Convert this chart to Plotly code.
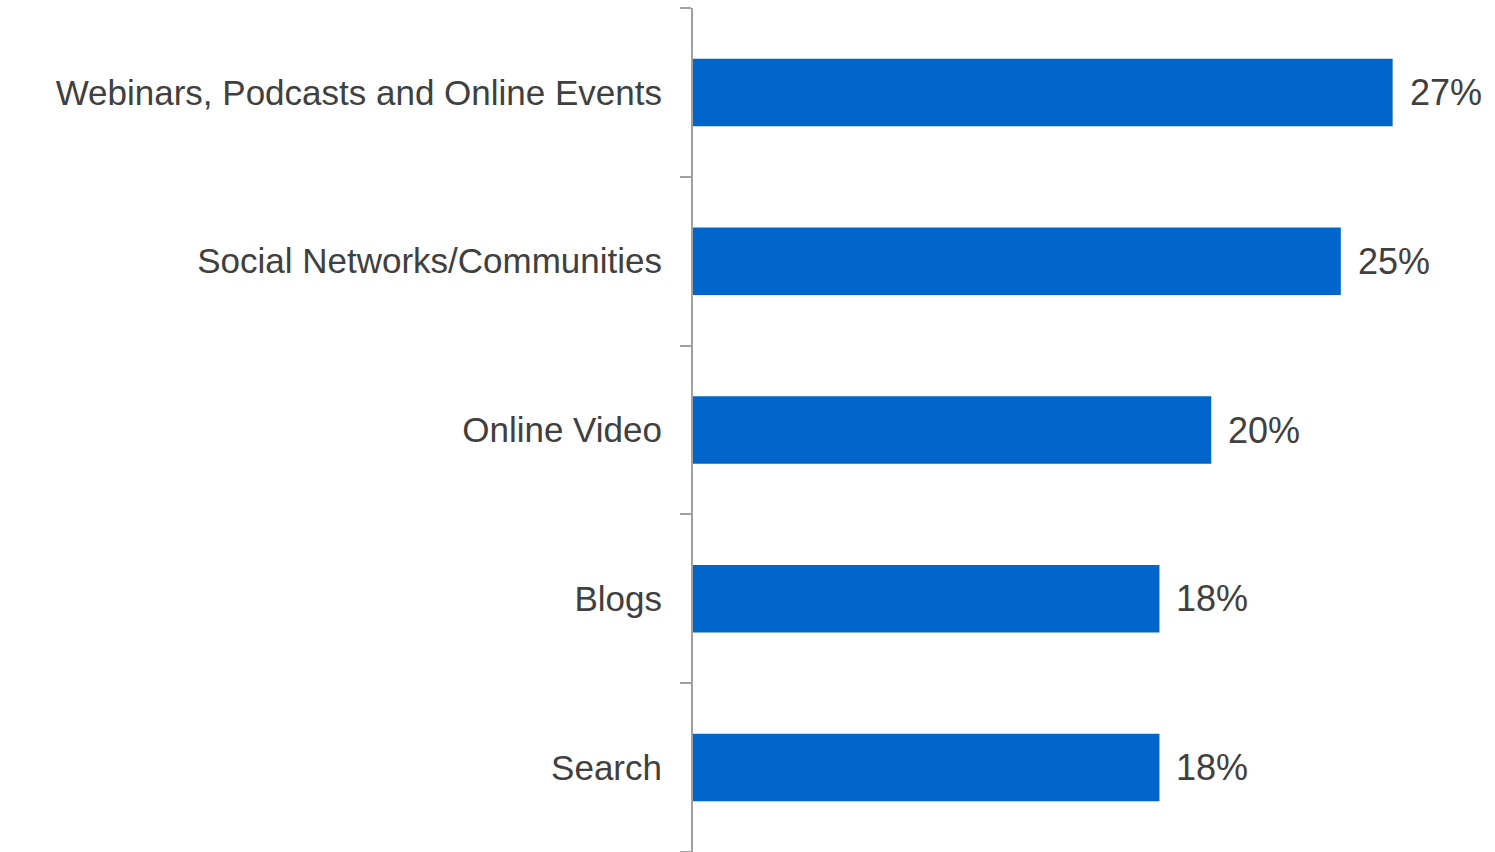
import plotly.graph_objects as go

categories = ["Webinars, Podcasts and Online Events", "Social Networks/Communities",
              "Online Video", "Blogs", "Search"]
values = [27, 25, 20, 18, 18]
value_labels = ["27%", "25%", "20%", "18%", "18%"]

FONT = "Liberation Sans, Arial, sans-serif"
TEXT_COLOR = "#404040"

fig = go.Figure()
fig.add_trace(go.Bar(
    x=values,
    y=categories,
    orientation="h",
    marker=dict(color="#0066CC", line=dict(width=0)),
    hoverinfo="skip",
))

# value labels just past the end of each bar
for cat, val, lab in zip(categories, values, value_labels):
    fig.add_annotation(
        x=val, y=cat, text=lab, showarrow=False,
        xanchor="left", yanchor="middle", xshift=15,
        font=dict(family=FONT, size=36, color=TEXT_COLOR),
    )

fig.update_layout(
    width=1495, height=852,
    margin=dict(l=693, r=0, t=8, b=0),
    paper_bgcolor="white", plot_bgcolor="white",
    bargap=0.6,
    showlegend=False,
    font=dict(family=FONT, size=35, color=TEXT_COLOR),
)
fig.update_xaxes(range=[0, 30.95], visible=False, showgrid=False, zeroline=False)
fig.update_yaxes(
    categoryorder="array", categoryarray=categories[::-1],
    autorange=False, range=[-0.5, 4.5],
    showline=True, linecolor="#A0A0A0", linewidth=2,
    ticks="outside", tickson="boundaries", ticklen=11, tickwidth=2, tickcolor="#A0A0A0",
    ticklabelstandoff=22,
    showgrid=False, zeroline=False,
    tickfont=dict(family=FONT, size=35, color=TEXT_COLOR),
)

fig.write_html("out.html")
